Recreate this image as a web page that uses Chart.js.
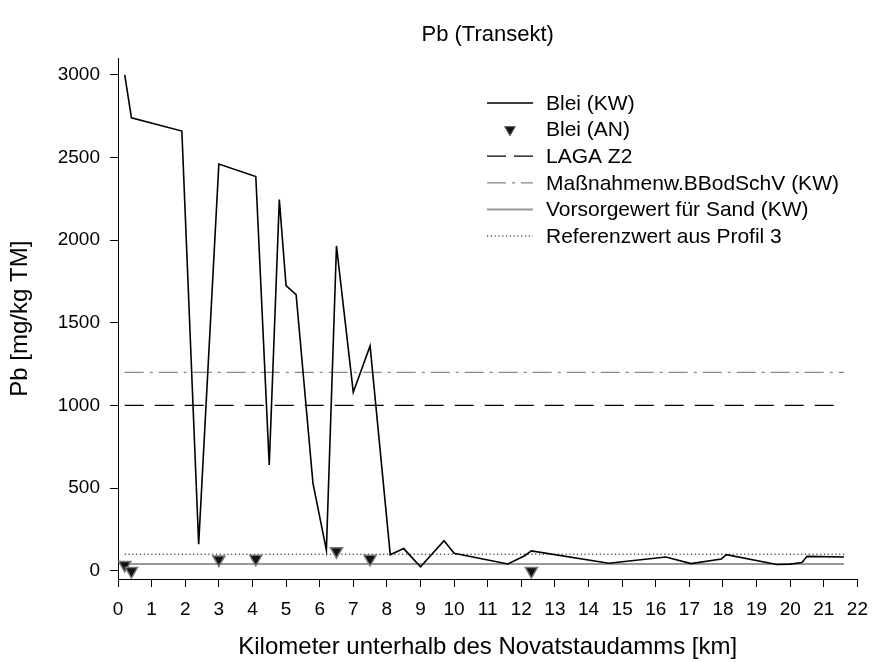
<!DOCTYPE html>
<html>
<head>
<meta charset="utf-8">
<script src="https://cdn.jsdelivr.net/npm/chart.js@4"></script>
<style>
  html, body { margin: 0; padding: 0; background: #fff; }
</style>
</head>
<body>
<canvas id="pbChart" width="879" height="662"></canvas>
<script>
// Transekt: Kilometer unterhalb des Staudamms und Bleigehalte
const km = [0.2, 0.4, 1.9, 2.4, 3.0, 4.1, 4.5, 4.8, 5.0, 5.3, 5.8, 6.2, 6.5, 7.0, 7.5,
  8.1, 8.5, 9.0, 9.7, 10.0, 11.6, 12.1, 12.3, 14.6, 16.3, 17.05, 17.95, 18.1,
  19.6, 20.0, 20.35, 20.5, 21.6];
const bleiKW = [3000, 2740, 2660, 160, 2460, 2385, 640, 2245, 1725, 1670, 530, 125, 1965, 1080, 1360,
  97, 134, 24, 182, 106, 41, 91, 120, 45, 83, 43, 71, 97,
  38, 40, 50, 87, 83];

const kmAN = [0.2, 0.4, 3.0, 4.1, 6.5, 7.5, 12.3];
const bleiAN = [35, -2, 68, 72, 118, 72, -2];

// Grenz- und Referenzwerte (mg/kg TM)
const lagaZ2 = 1000;
const massnahmenwert = 1200;
const vorsorgewert = 40;
const referenzwert = 100;

const xTicks = [0, 1, 2, 3, 4, 5, 6, 7, 8, 9, 10, 11, 12, 13, 14, 15, 16, 17, 18, 19, 20, 21, 22];
const yTicks = [0, 500, 1000, 1500, 2000, 2500, 3000];

const FONT = '"Liberation Sans", Arial, Helvetica, sans-serif';
Chart.defaults.font.family = FONT;
Chart.defaults.color = '#000';

const toPoints = (xs, ys) => xs.map((x, i) => ({ x: x, y: ys[i] }));
const hline = v => [{ x: km[0], y: v }, { x: km[km.length - 1], y: v }];

// legend drawn inside the plot, upper right
const legendBox = {
  id: 'legendBox',
  afterDraw(chart) {
    const ctx = chart.ctx;
    const x0 = 487, x1 = 533, tx = 546;
    let y = 103;
    chart.data.datasets.forEach(ds => {
      ctx.save();
      if (ds.showLine === false) {
        Chart.helpers.drawPoint(ctx, {
          pointStyle: 'triangle', rotation: 180, radius: 6, borderWidth: 1
        }, (x0 + x1) / 2, y);
        ctx.fillStyle = ds.backgroundColor;
        ctx.strokeStyle = ds.borderColor;
        ctx.fill();
        ctx.stroke();
      } else {
        ctx.strokeStyle = ds.borderColor;
        ctx.lineWidth = ds.borderWidth;
        ctx.setLineDash(ds.legendDash || ds.borderDash || []);
        ctx.beginPath();
        ctx.moveTo(x0, y);
        ctx.lineTo(x1, y);
        ctx.stroke();
      }
      ctx.setLineDash([]);
      ctx.fillStyle = '#000';
      ctx.font = '21px ' + FONT;
      ctx.textBaseline = 'middle';
      ctx.fillText(ds.label, tx, y + 1);
      ctx.restore();
      y += 26.6;
    });
  }
};

new Chart(document.getElementById('pbChart'), {
  type: 'scatter',
  data: {
    datasets: [
      {
        label: 'Blei (KW)',
        data: toPoints(km, bleiKW),
        showLine: true,
        borderColor: '#000',
        borderWidth: 1.6,
        pointRadius: 0,
        order: 1
      },
      {
        label: 'Blei (AN)',
        data: toPoints(kmAN, bleiAN),
        showLine: false,
        pointStyle: 'triangle',
        rotation: 180,
        pointRadius: 7,
        backgroundColor: '#111',
        borderColor: '#777',
        borderWidth: 1.5,
        order: 0
      },
      {
        label: 'LAGA Z2',
        data: hline(lagaZ2),
        showLine: true,
        borderColor: '#000',
        borderWidth: 1.2,
        borderDash: [19, 11],
        legendDash: [19, 8],
        pointRadius: 0,
        order: 2
      },
      {
        label: 'Maßnahmenw.BBodSchV (KW)',
        data: hline(massnahmenwert),
        showLine: true,
        borderColor: '#888',
        borderWidth: 1.2,
        borderDash: [19, 6, 3, 6],
        pointRadius: 0,
        order: 2
      },
      {
        label: 'Vorsorgewert für Sand (KW)',
        data: hline(vorsorgewert),
        showLine: true,
        borderColor: '#999',
        borderWidth: 2,
        pointRadius: 0,
        order: 2
      },
      {
        label: 'Referenzwert aus Profil 3',
        data: hline(referenzwert),
        showLine: true,
        borderColor: '#000',
        borderWidth: 1,
        borderDash: [1.2, 2.6],
        pointRadius: 0,
        order: 2
      }
    ]
  },
  options: {
    responsive: false,
    animation: false,
    layout: { padding: { left: 0, right: 13, top: 0, bottom: 0 } },
    plugins: {
      legend: { display: false },
      tooltip: { enabled: false },
      title: {
        display: true,
        text: 'Pb (Transekt)',
        fullSize: false,
        color: '#000',
        font: { size: 22, weight: 'normal' },
        padding: { top: 21.8, bottom: 10.1 }
      }
    },
    scales: {
      x: {
        type: 'linear',
        min: 0,
        max: 22,
        afterBuildTicks: s => { s.ticks = xTicks.map(v => ({ value: v })); },
        afterFit: s => { s.height = 83; },
        grid: { display: true, drawOnChartArea: false, drawTicks: true, tickLength: 8, color: '#000' },
        border: { display: true, color: '#000', width: 1 },
        ticks: { font: { size: 19 }, padding: 11, color: '#000', maxRotation: 0, autoSkip: false,
          callback: v => String(v) },
        title: {
          display: true,
          text: 'Kilometer unterhalb des Novatstaudamms [km]',
          font: { size: 24 },
          color: '#000',
          padding: { top: 0, bottom: 0 }
        }
      },
      y: {
        type: 'linear',
        min: -50,
        max: 3100,
        afterBuildTicks: s => { s.ticks = yTicks.map(v => ({ value: v })); },
        afterFit: s => { s.width = 118; },
        grid: { display: true, drawOnChartArea: false, drawTicks: true, tickLength: 8, color: '#000' },
        border: { display: true, color: '#000', width: 1 },
        ticks: { font: { size: 19 }, padding: 10, color: '#000', callback: v => String(v) },
        title: {
          display: true,
          text: 'Pb [mg/kg TM]',
          font: { size: 24 },
          color: '#000',
          padding: { top: 6, bottom: 0 }
        }
      }
    }
  },
  plugins: [legendBox]
});
</script>
</body>
</html>
